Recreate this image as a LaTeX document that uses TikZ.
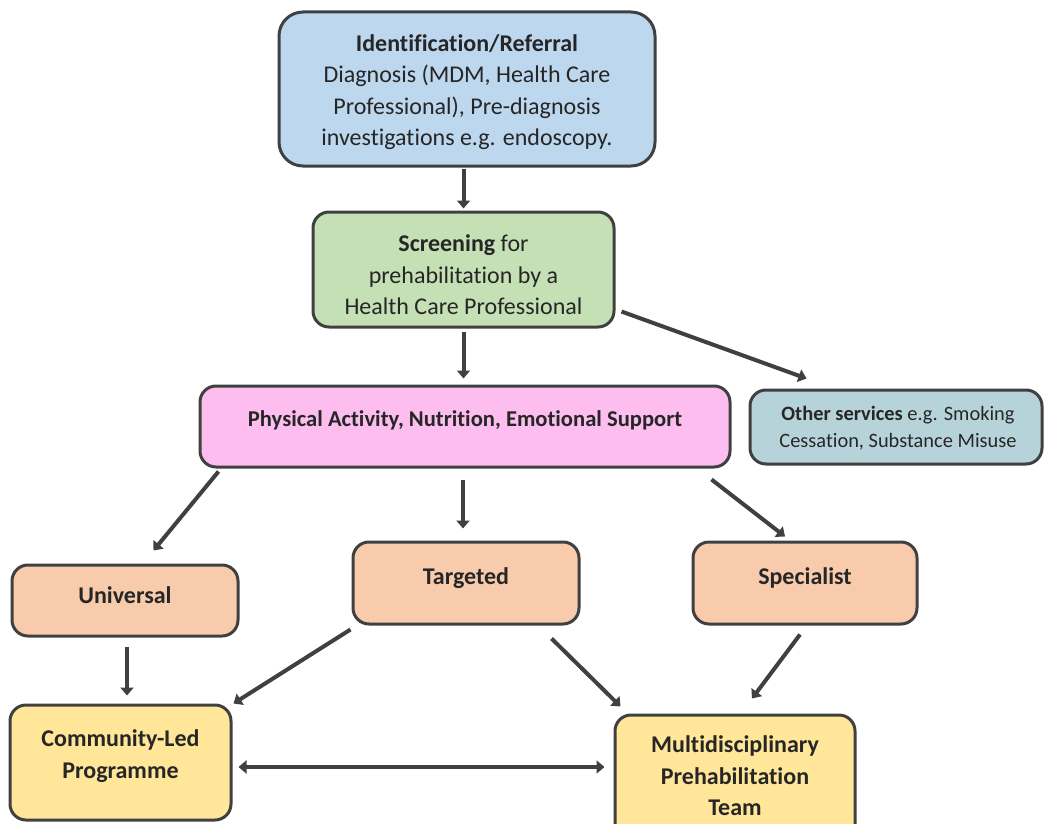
\documentclass[tikz,border=0pt]{standalone}
\usepackage{fontspec}
\setmainfont{Carlito}[Ligatures={NoCommon}]
\usetikzlibrary{arrows.meta,calc}
\definecolor{edgec}{HTML}{404040}
\definecolor{txtc}{HTML}{262626}
\definecolor{cblue}{HTML}{BDD7EE}
\definecolor{cgreen}{HTML}{C5E0B4}
\definecolor{cpink}{HTML}{FDBDEF}
\definecolor{cteal}{HTML}{B7D3DA}
\definecolor{csalmon}{HTML}{F8CBAD}
\definecolor{cyellow}{HTML}{FFE699}
\tikzset{
  box/.style={draw=edgec, line width=3pt, rounded corners=16pt, inner sep=0pt},
  txt/.style={align=center, text=txtc, inner sep=0pt, font=\fontsize{24}{31.5}\selectfont},
  ptxt/.style={align=center, text=txtc, inner sep=0pt, font=\fontsize{22.6}{31.5}\selectfont},
  stxt/.style={align=center, text=txtc, inner sep=0pt, font=\fontsize{20.4}{27}\selectfont},
  conn/.style={draw=edgec, line width=4pt, -{Triangle[length=8pt,width=13pt]}},
  dconn/.style={draw=edgec, line width=4pt, {Triangle[length=8pt,width=13pt]}-{Triangle[length=8pt,width=13pt]}}
}
\begin{document}
\begin{tikzpicture}[x=1pt,y=-1pt]
\useasboundingbox (0,0) rectangle (1044,824);
% boxes
\node[box, fill=cblue, rounded corners=24pt, minimum width=376pt, minimum height=154pt] (top) at (467,89) {};
\node[box, fill=cgreen, minimum width=301pt, minimum height=115pt] (screen) at (463.5,269.5) {};
\node[box, fill=cpink, minimum width=530pt, minimum height=81pt] (pink) at (465,426.5) {};
\node[box, fill=cteal, minimum width=292pt, minimum height=74pt] (other) at (896,427) {};
\node[box, fill=csalmon, minimum width=226pt, minimum height=71pt] (univ) at (125,600.5) {};
\node[box, fill=csalmon, minimum width=226pt, minimum height=82pt] (targ) at (466,583) {};
\node[box, fill=csalmon, minimum width=224pt, minimum height=82pt] (spec) at (805,583) {};
\node[box, fill=cyellow, minimum width=221pt, minimum height=115pt] (comm) at (120.5,762.5) {};
\node[box, fill=cyellow, minimum width=240pt, minimum height=130pt] (multi) at (735,780) {};
% texts
\node[txt] (ttop) at (467,92) {\textbf{Identification/Referral}\\Diagnosis (MDM, Health Care\\Professional), Pre-diagnosis\\investigations e.g. endoscopy.};
\node[txt] (tscreen) at (463.5,275) {\textbf{Screening} for\\prehabilitation by a\\Health Care Professional};
\node[ptxt] (tpink) at (465,420) {\textbf{Physical Activity, Nutrition, Emotional Support}};
\node[stxt] (tother) at (898,428.5) {\textbf{Other services} e.g. Smoking\\Cessation, Substance Misuse};
\node[txt] (tuniv) at (125,595) {\textbf{Universal}};
\node[txt] (ttarg) at (466,578) {\textbf{Targeted}};
\node[txt] (tspec) at (805,578) {\textbf{Specialist}};
\node[txt] (tcomm) at (120.5,756) {\textbf{Community-Led}\\\textbf{Programme}};
\node[txt] (tmulti) at (735,776) {\textbf{Multidisciplinary}\\\textbf{Prehabilitation}\\\textbf{Team}};
% connectors
\draw[conn] ($(top.south -| screen.north)+(0,1)$) -- ($(screen.north)+(0,-2)$);
\draw[conn] ($(screen.south)+(0,3)$) -- ($(screen.south |- pink.north)+(0,-6)$);
\draw[conn] ($(screen.south east)+(6,-17)$) -- ($(other.north west)+(58,-10)$);
\draw[conn] ($(pink.south west)+(20,3)$) -- ($(univ.north west)+(143,-13)$);
\draw[conn] ($(pink.south)+(-2,11)$) -- ($(targ.north)+(-3,-12)$);
\draw[conn] ($(pink.south east)+(-20,11)$) -- ($(spec.north)+(-20,-4)$);
\draw[conn] ($(univ.south)+(2,9)$) -- ($(comm.north)+(6.5,-8)$);
\draw[conn] ($(targ.south west)+(-1,4)$) -- ($(comm.north east)+(1,0)$);
\draw[conn] ($(targ.south east)+(-29,13)$) -- ($(multi.north west)+(7,-7)$);
\draw[conn] ($(spec.south)+(-5,9)$) -- ($(multi.north)+(17,-15)$);
\draw[dconn] ($(comm.east)+(6,4.5)$) -- ($(multi.west |- comm.east)+(-9,4.5)$);
\end{tikzpicture}
\end{document}
